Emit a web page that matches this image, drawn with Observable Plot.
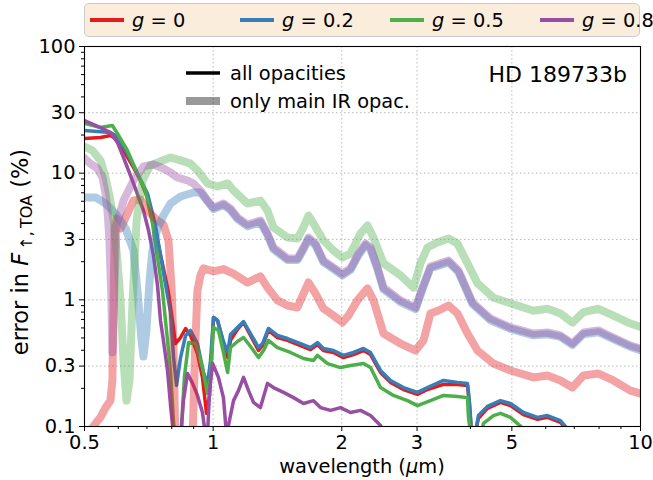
<!DOCTYPE html>
<html><head><meta charset="utf-8">
<script src="https://cdn.jsdelivr.net/npm/d3@7"></script>
<script src="https://cdn.jsdelivr.net/npm/@observablehq/plot@0.6"></script>
<style>
body{margin:0;background:#fff;font-family:"DejaVu Sans",sans-serif;}
#wrap{position:relative;width:653px;height:480px;}
#legend{position:absolute;left:84px;top:3px;width:556px;height:34px;box-sizing:border-box;background:rgb(250,237,220);border:1px solid #ccc;border-radius:5px;}
.item{position:absolute;top:0;height:32px;display:flex;align-items:center;}
.sw{width:34px;height:4px;margin-right:8px;}
.lab{font-size:19.4px;color:#000;white-space:nowrap;}
</style></head>
<body><div id="wrap"><div id="chart"></div><div id="legend"></div></div>
<script>
// categories
const gLabels = ["0", "0.2", "0.5", "0.8"];
const colors = ["#e41a1c", "#377eb8", "#4daf4a", "#984ea3"];
// ticks
const xMajor = [0.5, 1, 2, 3, 5, 10];
const xMinor = [0.6, 0.7, 0.8, 0.9, 4, 6, 7, 8, 9];
const yMajor = [0.1, 0.3, 1, 3, 10, 30, 100];
const yMinor = [0.2, 0.4, 0.5, 0.6, 0.7, 0.8, 0.9, 2, 4, 5, 6, 7, 8, 9, 20, 40, 50, 60, 70, 80, 90];

// all opacities: [wavelength (um), error (%)]
const all_g0 = [[0.500,18.8],[0.545,19.1],[0.575,19.8],[0.597,18.4],[0.617,15.1],[0.651,11.1],[0.676,8.75],[0.702,6.43],[0.721,4.63],[0.745,2.69],[0.765,1.77],[0.786,1.14],[0.803,0.687],[0.816,0.452],[0.839,0.504],[0.862,0.594],[0.885,0.523],[0.919,0.377],[0.944,0.244],[0.965,0.127],[0.981,0.176],[1.002,0.725],[1.024,0.687],[1.057,0.452],[1.081,0.350],[1.098,0.478],[1.140,0.584],[1.178,0.663],[1.223,0.523],[1.277,0.398],[1.305,0.436],[1.347,0.573],[1.414,0.504],[1.493,0.478],[1.601,0.436],[1.690,0.405],[1.754,0.444],[1.812,0.398],[1.912,0.384],[2.018,0.350],[2.130,0.370],[2.248,0.398],[2.335,0.370],[2.464,0.267],[2.600,0.223],[2.789,0.196],[3.007,0.179],[3.173,0.196],[3.459,0.215],[3.730,0.215],[3.937,0.211],[3.980,0.146],[4.022,0.090],[4.109,0.090],[4.176,0.116],[4.383,0.139],[4.702,0.155],[4.962,0.146],[5.322,0.124],[5.739,0.114],[6.057,0.118],[6.496,0.108],[6.747,0.093]];
const all_g02 = [[0.500,21.7],[0.575,20.9],[0.597,19.5],[0.630,14.3],[0.665,9.94],[0.702,6.91],[0.733,3.86],[0.753,2.24],[0.773,1.35],[0.795,0.794],[0.808,0.350],[0.821,0.211],[0.839,0.350],[0.862,0.523],[0.885,0.573],[0.919,0.452],[0.949,0.267],[0.970,0.215],[0.986,0.332],[1.002,0.725],[1.024,0.687],[1.057,0.469],[1.081,0.384],[1.098,0.532],[1.140,0.605],[1.178,0.674],[1.223,0.542],[1.277,0.420],[1.305,0.452],[1.347,0.594],[1.414,0.523],[1.493,0.495],[1.601,0.452],[1.690,0.420],[1.754,0.460],[1.812,0.413],[1.912,0.398],[2.018,0.364],[2.130,0.384],[2.248,0.413],[2.335,0.384],[2.464,0.277],[2.600,0.231],[2.789,0.203],[3.007,0.186],[3.173,0.203],[3.459,0.231],[3.730,0.223],[3.937,0.219],[3.980,0.155],[4.022,0.090],[4.109,0.090],[4.176,0.122],[4.383,0.144],[4.702,0.160],[4.962,0.152],[5.322,0.129],[5.739,0.118],[6.057,0.122],[6.496,0.1115],[6.747,0.096]];
const all_g05 = [[0.500,24.7],[0.545,22.9],[0.581,23.8],[0.597,20.6],[0.630,15.1],[0.665,9.94],[0.694,7.30],[0.721,4.01],[0.741,2.16],[0.761,1.185],[0.782,0.478],[0.795,0.262],[0.808,0.106],[0.816,0.078],[0.839,0.078],[0.843,0.100],[0.857,0.250],[0.876,0.460],[0.909,0.452],[0.944,0.292],[0.970,0.182],[0.986,0.244],[1.002,0.605],[1.029,0.573],[1.057,0.384],[1.081,0.267],[1.098,0.420],[1.140,0.469],[1.178,0.504],[1.223,0.428],[1.277,0.350],[1.312,0.398],[1.347,0.478],[1.414,0.420],[1.517,0.384],[1.627,0.344],[1.717,0.332],[1.754,0.364],[1.852,0.314],[1.986,0.292],[2.096,0.303],[2.248,0.314],[2.335,0.292],[2.464,0.203],[2.642,0.176],[2.849,0.160],[3.007,0.146],[3.225,0.160],[3.459,0.176],[3.730,0.1725],[3.937,0.169],[3.958,0.118],[4.022,0.078],[4.221,0.078],[4.290,0.106],[4.529,0.122],[4.702,0.127],[4.962,0.118],[5.322,0.096]];
const all_g08 = [[0.500,26.0],[0.545,22.9],[0.575,20.9],[0.597,17.5],[0.617,13.3],[0.651,8.29],[0.687,5.07],[0.706,3.53],[0.725,2.24],[0.741,1.30],[0.753,0.687],[0.765,0.478],[0.782,0.277],[0.795,0.146],[0.808,0.085],[0.821,0.078],[0.839,0.078],[0.852,0.160],[0.871,0.262],[0.895,0.219],[0.919,0.176],[0.944,0.129],[0.960,0.085],[0.970,0.085],[0.981,0.192],[0.997,0.314],[1.029,0.244],[1.057,0.169],[1.075,0.085],[1.092,0.1115],[1.116,0.160],[1.146,0.192],[1.178,0.244],[1.210,0.192],[1.243,0.155],[1.290,0.141],[1.340,0.219],[1.384,0.203],[1.461,0.186],[1.542,0.169],[1.627,0.152],[1.717,0.160],[1.783,0.141],[1.882,0.134],[1.986,0.141],[2.096,0.129],[2.212,0.134],[2.335,0.122],[2.464,0.102],[2.531,0.078]];

// only main IR opacities
const ir_g0 = [[0.500,0.080],[0.531,0.106],[0.545,0.118],[0.560,0.141],[0.575,0.160],[0.581,0.231],[0.585,0.99],[0.588,3.53],[0.594,4.4],[0.607,3.66],[0.624,4.47],[0.651,6.08],[0.676,6.2],[0.702,5.07],[0.741,4.23],[0.765,3.93],[0.786,2.94],[0.800,1.185],[0.808,0.398],[0.816,0.080],[0.895,0.080],[0.909,0.478],[0.919,1.185],[0.934,1.56],[0.949,1.77],[1.002,1.68],[1.057,1.75],[1.116,1.61],[1.203,1.37],[1.290,1.53],[1.340,1.25],[1.414,0.99],[1.493,0.902],[1.575,0.870],[1.627,1.12],[1.672,1.37],[1.736,1.12],[1.812,0.854],[1.912,0.752],[2.007,0.663],[2.074,0.752],[2.176,0.99],[2.297,1.23],[2.373,0.99],[2.504,0.542],[2.744,0.452],[2.976,0.398],[3.106,0.478],[3.225,0.78],[3.367,0.824],[3.554,0.902],[3.730,0.78],[3.937,0.542],[4.154,0.398],[4.529,0.314],[4.962,0.277],[5.616,0.244],[6.057,0.253],[6.496,0.231],[6.931,0.203],[7.354,0.253],[7.971,0.262],[8.643,0.231],[9.474,0.192],[10.0,0.182]];
const ir_g02 = [[0.500,6.43],[0.531,6.43],[0.560,5.76],[0.591,4.80],[0.624,3.66],[0.651,2.45],[0.665,1.185],[0.680,0.478],[0.687,0.357],[0.698,0.573],[0.710,1.42],[0.721,2.45],[0.741,3.66],[0.765,4.63],[0.795,5.76],[0.839,6.54],[0.899,7.04],[0.934,7.04],[0.970,6.0],[1.002,5.2],[1.057,5.6],[1.098,5.1],[1.140,4.35],[1.203,3.8],[1.290,4.1],[1.340,3.25],[1.384,2.5],[1.493,2.06],[1.575,2.06],[1.627,2.5],[1.672,3.0],[1.736,2.7],[1.812,1.98],[1.912,1.75],[2.007,1.56],[2.096,1.72],[2.188,2.25],[2.273,2.7],[2.335,2.5],[2.424,1.75],[2.504,1.21],[2.744,0.96],[2.976,0.845],[3.089,1.21],[3.225,1.78],[3.403,1.88],[3.554,1.98],[3.751,1.65],[4.045,0.925],[4.456,0.69],[4.962,0.59],[5.616,0.525],[6.057,0.535],[6.496,0.51],[6.931,0.44],[7.354,0.535],[7.971,0.555],[8.643,0.49],[9.474,0.425],[10.0,0.40]];
const ir_g05 = [[0.500,16.2],[0.522,15.1],[0.545,12.6],[0.560,9.24],[0.572,6.66],[0.585,4.23],[0.597,2.04],[0.607,0.99],[0.617,0.33],[0.627,0.16],[0.637,0.23],[0.648,0.99],[0.662,4.23],[0.683,8.75],[0.713,11.5],[0.753,12.4],[0.795,13.3],[0.839,12.6],[0.885,11.9],[0.919,10.5],[0.970,8.3],[1.024,7.85],[1.081,8.3],[1.116,7.3],[1.203,5.76],[1.290,6.08],[1.340,5.07],[1.384,3.73],[1.493,3.10],[1.575,3.05],[1.627,3.73],[1.672,4.63],[1.717,4.01],[1.812,2.94],[1.912,2.45],[2.007,2.16],[2.096,2.32],[2.212,3.34],[2.297,3.86],[2.373,3.10],[2.504,1.94],[2.744,1.56],[2.944,1.25],[3.056,1.94],[3.173,2.59],[3.349,2.84],[3.554,3.05],[3.730,2.78],[3.937,1.94],[4.154,1.35],[4.529,1.04],[4.962,0.94],[5.616,0.82],[6.057,0.85],[6.496,0.78],[6.931,0.66],[7.354,0.80],[7.971,0.85],[8.643,0.75],[9.474,0.65],[10.0,0.61]];
const ir_g08 = [[0.500,13.1],[0.516,11.9],[0.536,10.9],[0.551,9.24],[0.560,6.91],[0.566,5.07],[0.572,2.94],[0.578,0.99],[0.581,0.384],[0.588,1.42],[0.594,3.86],[0.617,6.08],[0.651,8.75],[0.687,11.3],[0.725,11.7],[0.765,10.9],[0.795,10.1],[0.825,9.24],[0.871,8.75],[0.899,8.29],[0.934,7.30],[0.970,6.08],[1.002,5.36],[1.057,5.76],[1.098,5.26],[1.140,4.47],[1.203,3.93],[1.290,4.23],[1.340,3.34],[1.384,2.59],[1.493,2.12],[1.575,2.12],[1.627,2.59],[1.672,3.10],[1.736,2.78],[1.812,2.04],[1.912,1.80],[2.007,1.61],[2.096,1.77],[2.188,2.32],[2.273,2.78],[2.335,2.59],[2.424,1.80],[2.504,1.25],[2.744,0.99],[2.976,0.87],[3.089,1.25],[3.225,1.83],[3.403,1.94],[3.554,2.04],[3.751,1.70],[4.045,0.953],[4.456,0.713],[4.962,0.605],[5.616,0.542],[6.057,0.552],[6.496,0.523],[6.931,0.452],[7.354,0.552],[7.971,0.573],[8.643,0.504],[9.474,0.436],[10.0,0.413]];

const toRows = (arr, kind) => arr.flatMap((s, i) => s.map(([x, y]) => ({x, y, g: gLabels[i], kind})));
const allRows = toRows([all_g0, all_g02, all_g05, all_g08], "all");
const irRows = toRows([ir_g0, ir_g02, ir_g05, ir_g08], "ir");

const gridStyle = {stroke: "#b0b0b0", strokeOpacity: 1, strokeWidth: 0.9, strokeDasharray: "1.5,2.5"};
const chart = Plot.plot({
  width: 653, height: 480,
  marginLeft: 84, marginRight: 13, marginTop: 46, marginBottom: 54,
  style: {fontFamily: "DejaVu Sans", fontSize: "19.4px", color: "#000", background: "#fff", overflow: "visible"},
  x: {type: "log", domain: [0.5, 10], label: null},
  y: {type: "log", domain: [0.1, 100], label: null},
  color: {domain: gLabels, range: colors},
  marks: [
    Plot.gridX(xMajor.slice(1, -1), gridStyle),
    Plot.gridY(yMajor.slice(1, -1), gridStyle),
    Plot.line(allRows, {x: "x", y: "y", z: "g", stroke: "g", strokeWidth: 3.5, strokeLinejoin: "round", clip: true}),
    Plot.line(irRows, {x: "x", y: "y", z: "g", stroke: "g", strokeWidth: 8, strokeOpacity: 0.4, strokeLinejoin: "round", clip: true}),
    Plot.frame({stroke: "#000", strokeWidth: 1.1}),
    Plot.axisX(xMajor, {tickSize: 5, tickFormat: () => "", label: null}),
    Plot.axisX(xMinor, {tickSize: 3, tickFormat: () => "", label: null}),
    Plot.text(xMajor, {x: d => d, text: d => String(d), frameAnchor: "bottom", lineAnchor: "top", dy: 9, fontSize: 19.4, fill: "#000", textAnchor: "middle"}),
    Plot.axisY(yMajor, {tickSize: 5, tickPadding: 4, tickFormat: d => String(d), fontSize: 19.4, label: null}),
    Plot.axisY(yMinor, {tickSize: 3, tickFormat: () => "", label: null})
  ]
});
document.getElementById("chart").appendChild(chart);

// axis labels and annotations
const svg = d3.select(chart);
const yl = svg.append("text").attr("transform", "translate(28,252) rotate(-90)")
  .attr("text-anchor", "middle").attr("font-size", "22.5px").attr("fill", "#000");
yl.append("tspan").text("error in ");
yl.append("tspan").attr("font-style", "italic").text("F");
yl.append("tspan").attr("font-size", "16px").attr("dy", "4").text("\u2009\u2191,\u2009TOA");
yl.append("tspan").attr("dy", "-4").text(" (%)");

const xl = svg.append("text").attr("x", 362).attr("y", 473)
  .attr("text-anchor", "middle").attr("font-size", "19.4px").attr("fill", "#000");
xl.append("tspan").text("wavelength (");
xl.append("tspan").attr("font-style", "italic").text("\u03bc");
xl.append("tspan").text("m)");

svg.append("text").attr("x", 627).attr("y", 82).attr("text-anchor", "end")
  .attr("font-size", "22px").attr("fill", "#000").text("HD 189733b");

const kinds = [{label: "all opacities", w: 3.5, o: 1}, {label: "only main IR opac.", w: 8, o: 0.4}];
kinds.forEach((k, i) => {
  const y = 73 + 28 * i;
  svg.append("line").attr("x1", 186).attr("x2", 220).attr("y1", y).attr("y2", y)
    .attr("stroke", "#000").attr("stroke-width", k.w).attr("stroke-opacity", k.o);
  svg.append("text").attr("x", 230).attr("y", y + 7).attr("text-anchor", "start")
    .attr("font-size", "19.4px").attr("fill", "#000").text(k.label);
});

// top legend
const leg = document.getElementById("legend");
gLabels.forEach((g, i) => {
  const it = document.createElement("div");
  it.className = "item";
  it.style.left = (5 + 150 * i) + "px";
  it.innerHTML = `<div class="sw" style="background:${colors[i]}"></div><span class="lab"><i>g</i> = ${g}</span>`;
  leg.appendChild(it);
});
</script></body></html>
